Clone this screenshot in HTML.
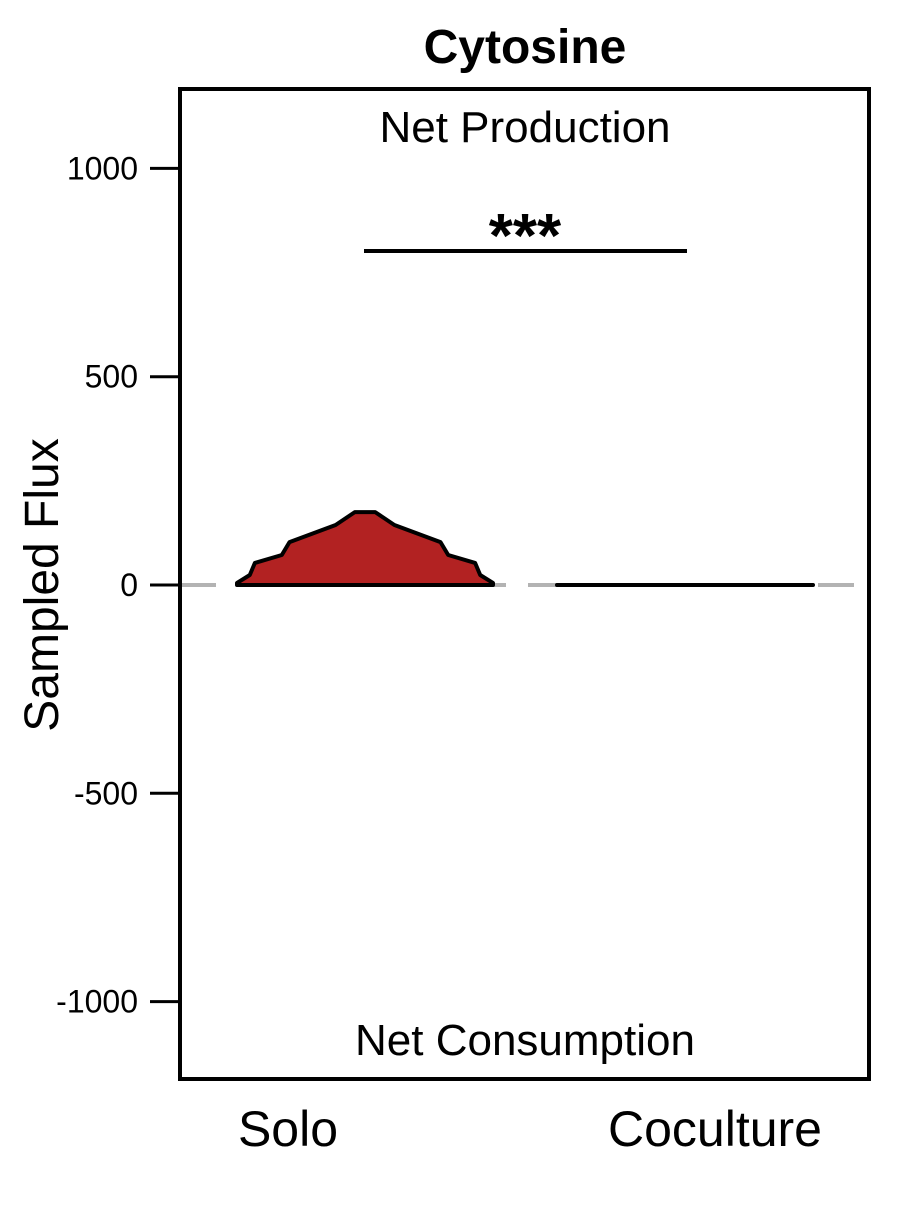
<!DOCTYPE html>
<html><head><meta charset="utf-8"><style>
body{margin:0;background:#fff;}
svg text{font-family:"Liberation Sans",sans-serif;}
</style></head><body>
<svg id="chart" width="900" height="1200" viewBox="0 0 900 1200">
<text x="525" y="63" text-anchor="middle" font-size="48" font-weight="bold">Cytosine</text>
<text x="58" y="585" text-anchor="middle" font-size="48" transform="rotate(-90 58 585)">Sampled Flux</text>
<g id="ticks"></g>
<line x1="180" y1="585" x2="869" y2="585" stroke="#b3b3b3" stroke-width="4" stroke-dasharray="36,22"/>
<g id="marks"></g>
<rect x="180" y="89" width="689" height="990" fill="none" stroke="#000" stroke-width="4"/>
<text x="525" y="142" text-anchor="middle" font-size="44">Net Production</text>
<text x="525" y="1055" text-anchor="middle" font-size="44">Net Consumption</text>
<line x1="364" y1="251" x2="687" y2="251" stroke="#000" stroke-width="4"/>
<text x="525" y="257" text-anchor="middle" font-size="62" font-weight="bold">***</text>
<text x="288" y="1146" text-anchor="middle" font-size="50">Solo</text>
<text x="715" y="1146" text-anchor="middle" font-size="50">Coculture</text>
</svg>
<script>
const yTicks=[1000,500,0,-500,-1000];
const yTickLabels=["1000","500","0","-500","-1000"];
const groups=["Solo","Coculture"];
const soloFlux=[0,5,24,53,72,103,144,175];
const soloDensity=[1.0,1.0,0.9,0.86,0.65,0.59,0.23,0.08];
const cocultureFlux=[0,0];
const cocultureDensity=[1.0,1.0];
const NS="http://www.w3.org/2000/svg";
function y(v){return 585-v*0.4166;}
function cx(i){return 365+i*320;}
const maxHalf=128;
const tg=document.getElementById('ticks');
yTicks.forEach((t,i)=>{
 const l=document.createElementNS(NS,'line');
 l.setAttribute('x1',150);l.setAttribute('x2',180);l.setAttribute('y1',y(t));l.setAttribute('y2',y(t));
 l.setAttribute('stroke','#000');l.setAttribute('stroke-width',3);
 
 
 tg.appendChild(l);
 const tx=document.createElementNS(NS,'text');
 tx.setAttribute('x',138);tx.setAttribute('y',y(t)+11);tx.setAttribute('text-anchor','end');tx.setAttribute('font-size',32);
 tx.textContent=yTickLabels[i];
 
 
 tg.appendChild(tx);
});
const mg=document.getElementById('marks');
function violin(i,flux,dens,name){
 const c=cx(i);let left=[],right=[];
 for(let k=0;k<flux.length;k++){left.push([c-dens[k]*maxHalf,y(flux[k])]);right.push([c+dens[k]*maxHalf,y(flux[k])]);}
 const pts=left.concat(right.reverse());
 const p=document.createElementNS(NS,'path');
 p.setAttribute('d','M'+pts.map(q=>q[0].toFixed(1)+','+q[1].toFixed(1)).join('L')+'Z');
 p.setAttribute('fill','#b22222');p.setAttribute('stroke','#000');p.setAttribute('stroke-width',4);p.setAttribute('stroke-linejoin','round');
 
 
 mg.appendChild(p);
}
violin(0,soloFlux,soloDensity,'violin-solo');
violin(1,cocultureFlux,cocultureDensity,'violin-coculture');
</script>
</body></html>
